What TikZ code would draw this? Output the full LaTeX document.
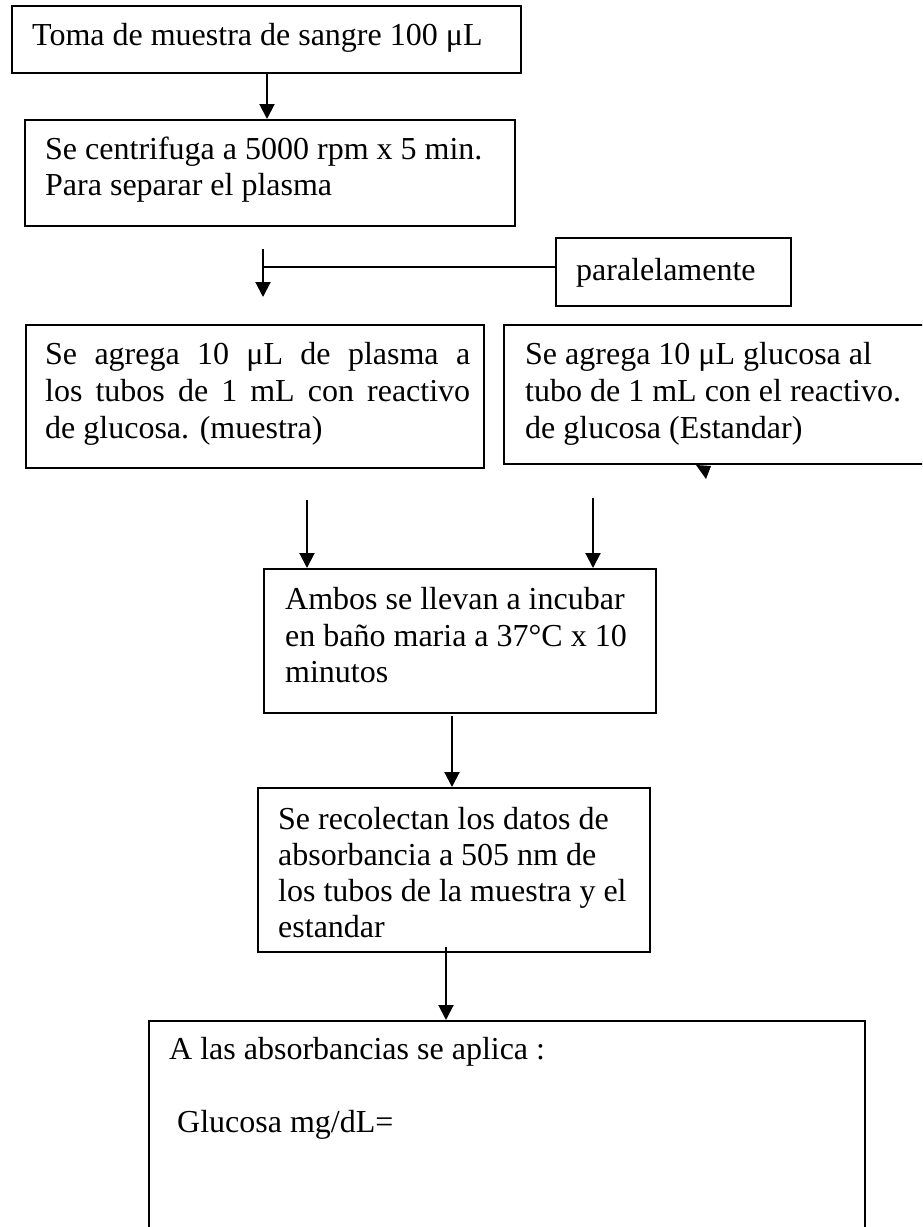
\documentclass[tikz,border=0pt]{standalone}
\usepackage{fontspec}
\setmainfont{Liberation Serif}
\usetikzlibrary{arrows.meta}
\begin{document}
\begin{tikzpicture}[x=1pt,y=-1pt,
  box/.style={draw=black, line width=1.6pt, inner sep=0pt, anchor=north west},
  txt/.style={inner sep=0pt, anchor=base west, font=\fontsize{32pt}{36.8pt}\selectfont},
  arr/.style={line width=2pt, -{Triangle[length=15pt,width=15pt]}},
  link/.style={line width=1.3pt}]
\useasboundingbox (0,0) rectangle (922,1227);
\clip (0,0) rectangle (922,1227);
% boxes
\node[box, minimum width=509pt, minimum height=67pt]  (b1)  at (11,5) {};
\node[box, minimum width=490pt, minimum height=106pt] (b2)  at (24,119) {};
\node[box, minimum width=235pt, minimum height=68pt]  (par) at (555,237) {};
\node[box, minimum width=458pt, minimum height=143pt] (b3)  at (25,324) {};
\node[box, minimum width=440pt, minimum height=139pt] (b4)  at (503,324) {};
\node[box, minimum width=392pt, minimum height=144pt] (b5)  at (263,568) {};
\node[box, minimum width=392pt, minimum height=164pt] (b6)  at (257,787) {};
\node[box, minimum width=716pt, minimum height=240pt] (b7)  at (148,1020) {};
% texts
\node[txt] (t1)  at (32,45)  {Toma de muestra de sangre 100 μL};
\node[txt] (t2a) at (45,159) {Se centrifuga a 5000 rpm x 5 min.};
\node[txt] (t2b) at (45,195) {Para separar el plasma};
\node[txt] (tp)  at (576,280) {paralelamente};
\node[txt] (t3a) at (45,364) {\makebox[425pt][s]{Se agrega 10 μL de plasma a}};
\node[txt] (t3b) at (45,401) {\makebox[425pt][s]{los tubos de 1 mL con reactivo}};
\node[txt] (t3c) at (45,438) {de glucosa. (muestra)};
\node[txt] (t4a) at (525,364) {Se agrega 10 μL glucosa al};
\node[txt] (t4b) at (525,401) {tubo de 1 mL con el reactivo.};
\node[txt] (t4c) at (525,438) {de glucosa (Estandar)};
\node[txt] (t5a) at (285,609) {Ambos se llevan a incubar};
\node[txt] (t5b) at (285,646) {en baño maria a 37°C x 10};
\node[txt] (t5c) at (285,682) {minutos};
\node[txt] (t6a) at (278,829) {Se recolectan los datos de};
\node[txt] (t6b) at (278,865) {absorbancia a 505 nm de};
\node[txt] (t6c) at (278,901) {los tubos de la muestra y el};
\node[txt] (t6d) at (278,937) {estandar};
\node[txt] (t7a) at (169,1059) {A las absorbancias se aplica :};
\node[txt] (t7b) at (177,1132) {Glucosa mg/dL=};
% connectors
\coordinate (a1) at (267,0);
\draw[arr] (b1.south -| a1) -- (b2.north -| a1);
\coordinate (a2s) at (263,249);
\coordinate (a2e) at (263,297);
\coordinate (j) at (263,267);
\draw[arr] (a2s) -- (a2e);
\draw[link] (par.west |- j) -- (j);
\coordinate (a4s) at (307,500);
\draw[arr] (a4s) -- (b5.north -| a4s);
\coordinate (a5s) at (593,498);
\draw[arr] (a5s) -- (b5.north -| a5s);
\coordinate (a6) at (452,716);
\draw[arr] (a6) -- (b6.north -| a6);
\coordinate (a7) at (446,947);
\draw[arr] (a7) -- (b7.north -| a7);
% stray arrowhead below the right box
\fill (696,465) -- (711,466) -- (706,479) -- cycle;
\end{tikzpicture}
\end{document}
